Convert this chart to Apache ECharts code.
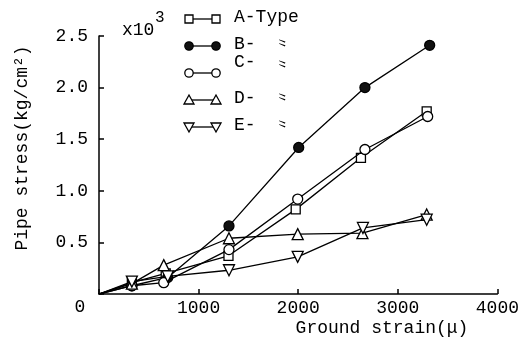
<!DOCTYPE html>
<html>
<head>
<meta charset="utf-8">
<script src="https://cdn.jsdelivr.net/npm/echarts@6/dist/echarts.min.js"></script>
<style>
  html, body { margin: 0; padding: 0; background: #fff; }
  #chart { width: 522px; height: 350px; }
</style>
</head>
<body>
<div id="chart"></div>
<script>
// ground strain (μ) and pipe stress (x10^3 kg/cm2) per joint type
const seriesNames = ['A-Type', 'B-', 'C-', 'D-', 'E-'];
const strainA = [0, 330, 670, 1300, 1975, 2630, 3290];
const stressA = [0, 0.11, 0.20, 0.37, 0.82, 1.32, 1.77];
const strainB = [0, 330, 690, 1305, 2005, 2670, 3320];
const stressB = [0, 0.08, 0.16, 0.66, 1.42, 2.00, 2.41];
const strainC = [0, 330, 650, 1305, 1995, 2670, 3300];
const stressC = [0, 0.08, 0.11, 0.43, 0.92, 1.40, 1.72];
const strainD = [0, 330, 650, 1305, 1995, 2645, 3290];
const stressD = [0, 0.10, 0.28, 0.54, 0.58, 0.59, 0.77];
const strainE = [0, 330, 690, 1305, 1995, 2650, 3290];
const stressE = [0, 0.12, 0.17, 0.23, 0.36, 0.64, 0.72];

const FONT = 'Liberation Mono';
const chart = echarts.init(document.getElementById('chart'));

function pairs(xs, ys) {
  return xs.map((x, i) => (x === 0 ? { value: [x, ys[i]], symbol: 'none' } : [x, ys[i]]));
}

const styles = [
  { symbol: 'rect', fill: '#fff', rotate: 0, size: 9 },
  { symbol: 'circle', fill: '#111', rotate: 0, size: 10 },
  { symbol: 'circle', fill: '#fff', rotate: 0, size: 10 },
  { symbol: 'triangle', fill: '#fff', rotate: 0, size: 11 },
  { symbol: 'triangle', fill: '#fff', rotate: 180, size: 11 },
];
const allData = [
  pairs(strainA, stressA),
  pairs(strainB, stressB),
  pairs(strainC, stressC),
  pairs(strainD, stressD),
  pairs(strainE, stressE),
];

const series = seriesNames.map((name, i) => ({
  name,
  type: 'line',
  data: allData[i],
  symbol: styles[i].symbol,
  symbolSize: styles[i].size,
  symbolRotate: styles[i].rotate,
  lineStyle: { color: '#000', width: 1.3 },
  itemStyle: { color: styles[i].fill, borderColor: '#000', borderWidth: 1.3 },
  emphasis: { disabled: true },
  z: 2 + i,
}));

// hand-made legend: symbol at both ends of a short line
const legendRows = [19, 46, 73, 100, 127];
const legendGraphics = [];
seriesNames.forEach((name, i) => {
  const y = legendRows[i];
  const s = styles[i];
  legendGraphics.push({ type: 'line', shape: { x1: 189, y1: y, x2: 216, y2: y }, style: { stroke: '#000', lineWidth: 1.3 } });
  [189, 216].forEach(cx => {
    let shape;
    if (s.symbol === 'rect') {
      shape = { type: 'rect', shape: { x: cx - 4, y: y - 4, width: 8, height: 8 } };
    } else if (s.symbol === 'circle') {
      shape = { type: 'circle', shape: { cx, cy: y, r: 4.2 } };
    } else {
      const d = s.rotate ? -1 : 1;
      shape = { type: 'polygon', shape: { points: [[cx, y - 5 * d], [cx - 5, y + 4 * d], [cx + 5, y + 4 * d]] } };
    }
    shape.style = { fill: s.fill, stroke: '#000', lineWidth: 1.3 };
    shape.z = 10;
    legendGraphics.push(shape);
  });
  legendGraphics.push({
    type: 'text', left: 234, top: y - (i === 2 ? 20 : 11),
    style: { text: name, font: '18px "' + FONT + '"', fill: '#000' },
  });
  if (i > 0) {
    legendGraphics.push({
      type: 'text', x: 283, y: y - (i === 2 ? 9 : 3), rotation: -Math.PI / 2,
      style: { text: '〃', font: '13px "Noto Sans CJK JP"', fill: '#000', align: 'center', verticalAlign: 'middle' },
    });
  }
});

const option = {
  animation: false,
  backgroundColor: '#fff',
  grid: { left: 99, right: 23, top: 36, bottom: 56 },
  xAxis: {
    type: 'value',
    min: 0,
    max: 4000,
    interval: 1000,
    axisLine: { lineStyle: { color: '#000', width: 1.5 } },
    axisTick: { inside: true, length: 5, lineStyle: { color: '#000', width: 1.5 } },
    axisLabel: {
      color: '#000', fontFamily: FONT, fontSize: 18, margin: 5,
      formatter: v => (v === 0 ? '' : String(v)),
    },
    splitLine: { show: false },
  },
  yAxis: {
    type: 'value',
    min: 0,
    max: 2.5,
    interval: 0.5,
    axisLine: { show: true, lineStyle: { color: '#000', width: 1.5 } },
    axisTick: { show: true, inside: true, length: 5, lineStyle: { color: '#000', width: 1.5 } },
    axisLabel: {
      color: '#000', fontFamily: FONT, fontSize: 18, margin: 11,
      formatter: v => (v === 0 ? '' : v.toFixed(1)),
    },
    splitLine: { show: false },
  },
  graphic: [
    { type: 'text', x: 80, y: 307, style: { text: '0', font: '18px "' + FONT + '"', fill: '#000', align: 'center', verticalAlign: 'middle' } },
    { type: 'text', left: 122, top: 21, style: { text: 'x10', font: '18px "' + FONT + '"', fill: '#000' } },
    { type: 'text', left: 155, top: 10, style: { text: '3', font: '16px "' + FONT + '"', fill: '#000' } },
    {
      type: 'text', x: 22, y: 148, rotation: Math.PI / 2,
      style: { text: 'Pipe stress(kg/cm²)', font: '18px "' + FONT + '"', fill: '#000', align: 'center', verticalAlign: 'middle' },
    },
    {
      type: 'text', x: 382, y: 328,
      style: { text: 'Ground strain(μ)', font: '18px "' + FONT + '"', fill: '#000', align: 'center', verticalAlign: 'middle' },
    },
  ].concat(legendGraphics),
  series,
};

chart.setOption(option);
</script>
</body>
</html>
